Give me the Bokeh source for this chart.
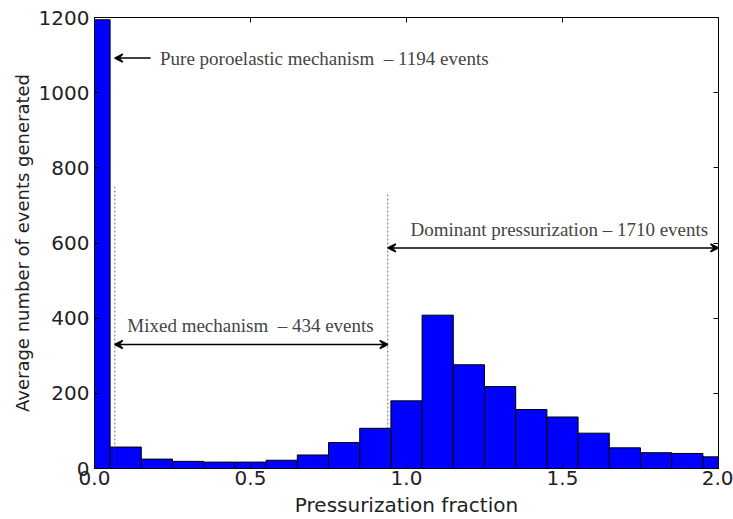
from bokeh.plotting import figure
from bokeh.models import (Range1d, LinearAxis, FixedTicker, NumeralTickFormatter,
                          Arrow, VeeHead, Label, ColumnDataSource)
from bokeh.embed import file_html
from bokeh.resources import INLINE

# Histogram bin edges (first and last bins are half width)
bin_edges = [0.0, 0.05, 0.15, 0.25, 0.35, 0.45, 0.55, 0.65, 0.75, 0.85, 0.95,
             1.05, 1.15, 1.25, 1.35, 1.45, 1.55, 1.65, 1.75, 1.85, 1.95, 2.0]
event_counts = [1194, 57, 25, 19, 17, 17, 22, 36, 69, 107,
                180, 408, 276, 218, 157, 137, 94, 55, 42, 40, 31]

x_ticks = [0.0, 0.5, 1.0, 1.5, 2.0]
y_ticks = [0, 200, 400, 600, 800, 1000, 1200]

# Regime boundaries (dashed) and their heights
boundary_x = [0.065, 0.94]
boundary_top = [750, 735]

# Annotations
NB = "\u00a0"
pure_text = "Pure poroelastic mechanism " + NB + "\u2013 1194 events"
mixed_text = "Mixed mechanism " + NB + "\u2013 434 events"
dominant_text = "Dominant pressurization \u2013 1710 events"
pure_arrow = dict(x_start=0.18, x_end=0.065, y=1092)
mixed_arrow = dict(x_start=0.065, x_end=0.94, y=330)
dominant_arrow = dict(x_start=0.94, x_end=2.0, y=587)

p = figure(width=733, height=519, output_backend="svg", toolbar_location=None,
           x_range=Range1d(0, 2.0), y_range=Range1d(0, 1200),
           min_border_left=94, min_border_right=15, min_border_top=17,
           min_border_bottom=50)
p.xgrid.visible = False
p.ygrid.visible = False
p.outline_line_color = "black"
p.outline_line_width = 1
p.background_fill_color = "white"
p.border_fill_color = "white"

src = ColumnDataSource(dict(left=bin_edges[:-1], right=bin_edges[1:],
                            top=event_counts, bottom=[0] * len(event_counts)))
p.quad(left="left", right="right", top="top", bottom="bottom", source=src,
       fill_color="#0000ff", line_color="black", line_width=1)

p.segment(x0=boundary_x, y0=[0, 0], x1=boundary_x, y1=boundary_top,
          line_color="#333333", line_width=0.7, line_dash="2 2")

# Axes styling: ticks pointing inward, on all four sides
def style_axis(ax):
    ax.major_tick_in = 5
    ax.major_tick_out = 0
    ax.minor_tick_line_color = None
    ax.axis_line_color = None
    ax.major_tick_line_color = "black"
    ax.major_label_text_font = "DejaVu Sans"
    ax.major_label_text_color = "#222222"
    ax.major_label_text_font_size = "20px"

xa = p.xaxis[0]
ya = p.yaxis[0]
xa.ticker = FixedTicker(ticks=x_ticks)
ya.ticker = FixedTicker(ticks=y_ticks)
xa.formatter = NumeralTickFormatter(format="0.0")
style_axis(xa)
style_axis(ya)
xa.major_label_standoff = 2
ya.major_label_standoff = 5
xa.axis_label = "Pressurization fraction"
ya.axis_label = "Average number of events generated"
for ax in (xa, ya):
    ax.axis_label_text_font = "DejaVu Sans"
    ax.axis_label_text_font_style = "normal"
    ax.axis_label_text_color = "#222222"
xa.axis_label_text_font_size = "20px"
ya.axis_label_text_font_size = "18px"
xa.axis_label_standoff = 5
ya.axis_label_standoff = 3

# Tick marks only (no labels) on the top and right edges
top_ax = LinearAxis(ticker=FixedTicker(ticks=x_ticks),
                    major_label_overrides={t: "" for t in x_ticks})
right_ax = LinearAxis(ticker=FixedTicker(ticks=y_ticks),
                      major_label_overrides={t: "" for t in y_ticks})
for ax in (top_ax, right_ax):
    style_axis(ax)
    ax.major_label_standoff = 0
    ax.major_label_text_font_size = "1px"
p.add_layout(top_ax, "above")
p.add_layout(right_ax, "right")

# Arrows
def head():
    return VeeHead(size=8, line_width=1.5, line_color="black")

p.add_layout(Arrow(end=head(), x_start=pure_arrow["x_start"], x_end=pure_arrow["x_end"],
                   y_start=pure_arrow["y"], y_end=pure_arrow["y"],
                   line_width=1.5, line_color="black"))
for a in (mixed_arrow, dominant_arrow):
    p.add_layout(Arrow(start=head(), end=head(),
                       x_start=a["x_start"], x_end=a["x_end"],
                       y_start=a["y"], y_end=a["y"],
                       line_width=1.5, line_color="black"))

serif = "Liberation Serif"
p.add_layout(Label(x=0.21, y=1092, text=pure_text, text_font=serif,
                   text_font_size="19px", text_baseline="middle", text_align="left"))
p.add_layout(Label(x=0.50, y=380, text=mixed_text, text_font=serif,
                   text_font_size="19px", text_baseline="middle", text_align="center"))
p.add_layout(Label(x=1.49, y=635, text=dominant_text, text_font=serif,
                   text_font_size="19px", text_baseline="middle", text_align="center"))

open("out.html", "w").write(file_html(p, INLINE))
